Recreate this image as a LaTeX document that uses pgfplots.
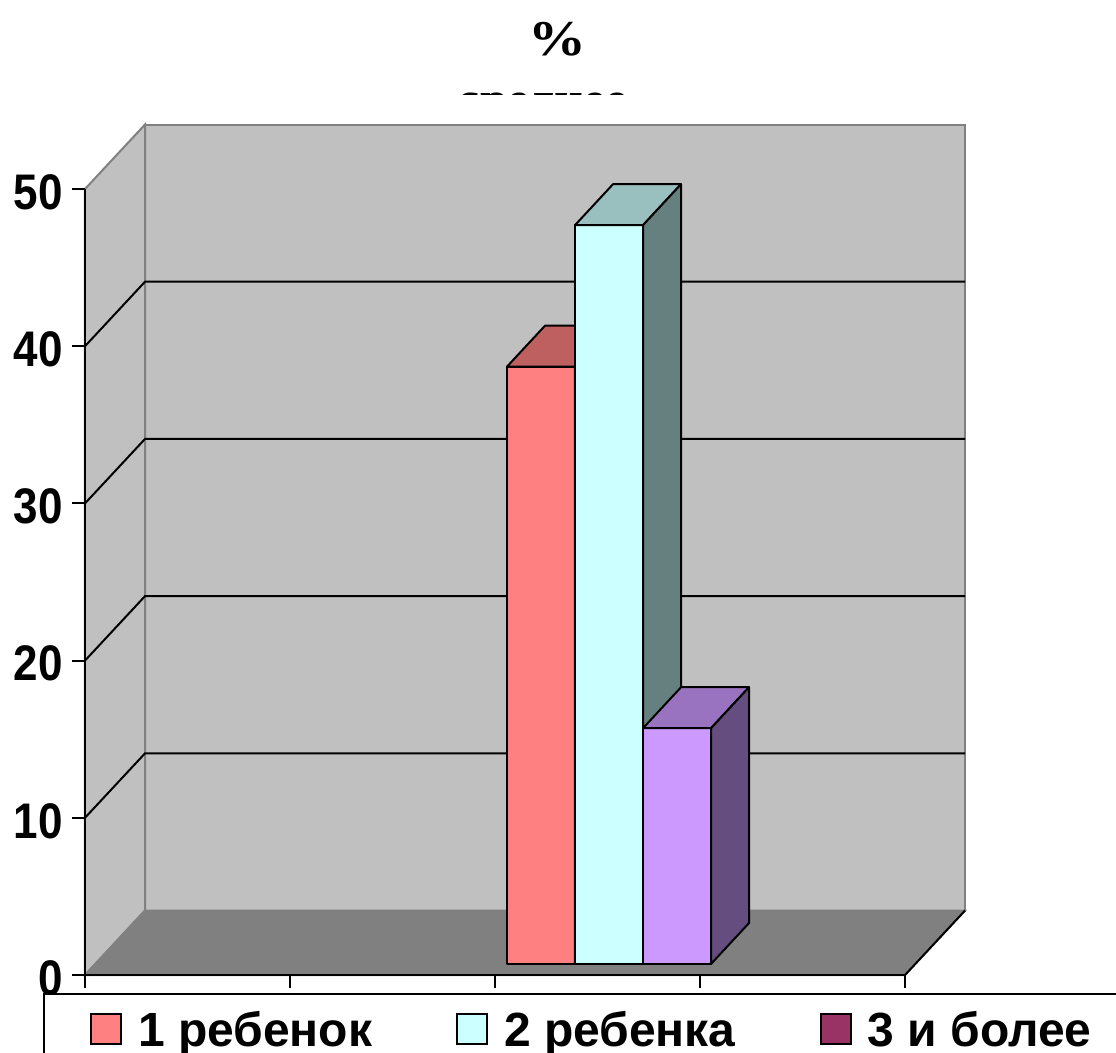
\documentclass[border=0pt]{standalone}
\usepackage{pgfplots}
\pgfplotsset{compat=1.18}
\usepackage{fontspec}
\setmainfont{Liberation Sans}
\newfontfamily\titlefont{Liberation Serif}[BoldFont={Liberation Serif Bold}]
\newfontfamily\pctfont{Liberation Serif Bold}[FakeStretch=1.16]
\newfontfamily\tickfont{Liberation Sans Bold}[FakeStretch=0.88]
\definecolor{wall}{HTML}{C0C0C0}
\definecolor{floorc}{HTML}{808080}
\definecolor{redf}{HTML}{FF8080}
\definecolor{redt}{HTML}{BF6060}
\definecolor{reds}{HTML}{804040}
\definecolor{cyanf}{HTML}{CCFFFF}
\definecolor{cyant}{HTML}{99BFBF}
\definecolor{cyans}{HTML}{668080}
\definecolor{purpf}{HTML}{CC99FF}
\definecolor{purpt}{HTML}{9973BF}
\definecolor{purps}{HTML}{664D80}
\definecolor{third}{HTML}{993366}
% bar: x0, x1, value, front, top, side colours; base 0.7, depth (0.1854, 2.605)
\newcommand{\barbox}[6]{%
  \pgfmathsetmacro\ytop{0.7+#3}%
  \pgfmathsetmacro\xa{#1+0.1854}%
  \pgfmathsetmacro\xb{#2+0.1854}%
  \pgfmathsetmacro\ytopb{\ytop+2.605}%
  \pgfmathsetmacro\ybase{0.7+2.605}%
  \addplot[forget plot, draw=black, line width=2pt, line join=round, fill=#4]
    coordinates {(#1,0.7) (#2,0.7) (#2,\ytop) (#1,\ytop)} -- cycle;
  \addplot[forget plot, draw=black, line width=2pt, line join=round, fill=#5]
    coordinates {(#1,\ytop) (#2,\ytop) (\xb,\ytopb) (\xa,\ytopb)} -- cycle;
  \addplot[forget plot, draw=black, line width=2pt, line join=round, fill=#6]
    coordinates {(#2,0.7) (\xb,\ybase) (\xb,\ytopb) (#2,\ytop)} -- cycle;
}
\begin{document}
\begin{tikzpicture}[x=1pt,y=1pt]
\clip[use as bounding box] (0,0) rectangle (1116,1052);
% cut-off second title line
\begin{scope}
  \clip (0,957) rectangle (1116,1052);
  \node[font=\titlefont\bfseries\fontsize{50}{54}\selectfont, anchor=base] at (543,935) {среднее};
\end{scope}
\node[font=\pctfont\fontsize{50}{54}\selectfont, anchor=base] at (557.5,996) {\%};
\begin{axis}[
  at={(85pt,77pt)}, anchor=origin,
  scale only axis, width=820pt, height=786pt,
  xmin=0, xmax=4, ymin=0, ymax=50,
  clip=false, axis on top=true,
  axis x line=bottom, axis y line=left,
  axis line style={-, black, line width=2pt},
  xtick={0,1,2,3,4}, xticklabels={},
  ytick={0,10,20,30,40,50},
  tick align=outside, major tick length=13pt,
  tick style={black, line width=2pt},
  /pgf/number format/assume math mode=true,
  yticklabel style={font=\tickfont\fontsize{50}{54}\selectfont, inner sep=0pt, xshift=-9pt, yshift=-3pt},
  legend columns=3,
  legend style={
    at={(-0.0512,-0.0229)}, anchor=north west,
    draw=black, line width=2pt, fill=white,
    inner xsep=46pt, inner ysep=15pt,
    font=\bfseries\fontsize{48}{52}\selectfont,
    /tikz/column 1/.style={column sep=14pt},
    /tikz/column 2/.style={column sep=82pt},
    /tikz/column 3/.style={column sep=14pt},
    /tikz/column 4/.style={column sep=82pt},
    /tikz/column 5/.style={column sep=14pt},
  },
  legend image code/.code={\draw[#1, line width=2pt] (0pt,-15pt) rectangle (30pt,15pt);},
]
% walls and floor
\addplot[forget plot, draw=floorc, line width=2pt, fill=wall]
  coordinates {(0.2927,4.1) (4.2927,4.1) (4.2927,54.1) (0.2927,54.1)} -- cycle;
\addplot[forget plot, draw=floorc, line width=2pt, fill=wall]
  coordinates {(0,0) (0.2927,4.1) (0.2927,54.1) (0,50)} -- cycle;
\addplot[forget plot, draw=floorc, line width=2pt, fill=floorc]
  coordinates {(0,0) (0.2927,4.1) (4.2927,4.1) (4,0)} -- cycle;
\addplot[forget plot, black, line width=2pt] coordinates {(4,0) (4.2927,4.1)};
% grid lines on the walls
\addplot[forget plot, black, line width=2pt] coordinates {(0,10) (0.2927,14.1) (4.2927,14.1)};
\addplot[forget plot, black, line width=2pt] coordinates {(0,20) (0.2927,24.1) (4.2927,24.1)};
\addplot[forget plot, black, line width=2pt] coordinates {(0,30) (0.2927,34.1) (4.2927,34.1)};
\addplot[forget plot, black, line width=2pt] coordinates {(0,40) (0.2927,44.1) (4.2927,44.1)};
% bars
\barbox{2.0585}{2.3902}{38}{redf}{redt}{reds}
\barbox{2.3902}{2.7220}{47}{cyanf}{cyant}{cyans}
\barbox{2.7220}{3.0537}{15}{purpf}{purpt}{purps}
\addlegendimage{draw=black, fill=redf}
\addlegendentry{1 ребенок}
\addlegendimage{draw=black, fill=cyanf}
\addlegendentry{2 ребенка}
\addlegendimage{draw=black, fill=third}
\addlegendentry{3 и более}
\end{axis}
\end{tikzpicture}
\end{document}
